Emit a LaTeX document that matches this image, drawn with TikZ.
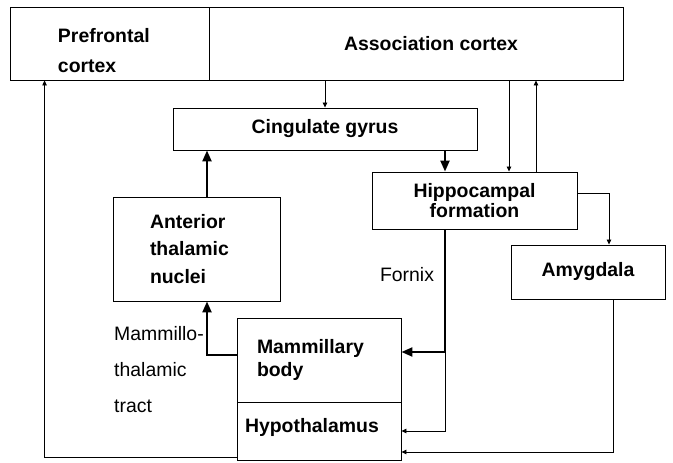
\documentclass[tikz,border=0pt]{standalone}
\usepackage{fontspec}
\setmainfont{Liberation Sans}
\usetikzlibrary{arrows.meta, positioning, calc}
\tikzset{
  arrowK/.style={-{Triangle[length=11bp, width=9bp]}, line width=2.2bp},
  arrowN/.style={-{Triangle[length=5bp, width=4.5bp]}, line width=0.8bp},
  boxA/.style={rectangle, draw, line width=0.9bp, inner sep=0pt,
               font=\bfseries\fontsize{19.5}{23}\selectfont, align=center},
  lblA/.style={font=\fontsize{19.5}{36}\selectfont, align=left, inner sep=0pt},
}
\begin{document}
\begin{tikzpicture}[x=1bp, y=-1bp]
    \useasboundingbox (0,0) rectangle (673,463);
    % boxes
    \node[boxA, minimum width=199bp, minimum height=73bp, text width=103bp,
          text height=28bp, align=left, font=\bfseries\fontsize{19.5}{30}\selectfont]
          (pfc) at (109.5,43.5) {Prefrontal\\cortex};
    \node[boxA, minimum width=414bp, minimum height=73bp] (assoc) at (416,43.5)
          {\hspace*{30bp}Association cortex};
    \node[boxA, minimum width=304bp, minimum height=42bp] (cing) at (325,129) {Cingulate gyrus};
    \node[boxA, minimum width=205bp, minimum height=57bp,
          font=\bfseries\fontsize{19.5}{20.5}\selectfont] (hippo) at (474.5,200.5)
          {Hippocampal\\formation};
    \node[boxA, minimum width=154bp, minimum height=54bp] (amyg) at (588,272) {Amygdala};
    \node[boxA, minimum width=167bp, minimum height=104bp, text width=93bp, align=left,
          font=\bfseries\fontsize{19.5}{27.5}\selectfont] (ant) at (196.5,249)
          {Anterior\\thalamic\\nuclei};
    \node[boxA, minimum width=164bp, minimum height=84bp, text width=124bp, align=left,
          font=\bfseries\fontsize{19.5}{23}\selectfont] (mam) at (319,360)
          {Mammillary\\body};
    \node[boxA, minimum width=164bp, minimum height=58bp, text width=148bp, align=left]
          (hyp) at (319,431) {\raisebox{12bp}{Hypothalamus}};
    % labels
    \node[lblA] (fornix) at (407,275) {Fornix};
    \node[lblA, anchor=north west] (mtt) at (114,326) {Mammillo-\\thalamic\\tract};
    % connectors
    \coordinate (fx) at (445,0);
    \coordinate (ad) at (509,0);
    \coordinate (au) at (536,0);
    \coordinate (mx) at (207,0);
    \draw[arrowN] (cing.north |- assoc.south) -- (cing.north);
    \draw[arrowK] (cing.south -| fx) -- (hippo.north -| fx);
    \draw[arrowN] (assoc.south -| ad) -- (hippo.north -| ad);
    \draw[arrowN] (hippo.north -| au) -- (assoc.south -| au);
    \draw[arrowN] ([yshift=7bp]hippo.east) -| ([xshift=21bp]amyg.north);
    \draw[arrowN] ([xshift=25bp]amyg.south) |- ([yshift=-21bp]hyp.east);
    \draw[arrowK] (ant.north -| mx) -- (cing.south -| mx);
    \draw[arrowK] (hippo.south -| fx) |- ([yshift=8bp]mam.east);
    \draw[arrowN] ([yshift=8bp]mam.east -| fx) |- (hyp.east);
    \draw[arrowK] ([yshift=5bp]mam.west) -| (ant.south -| mx);
    \draw[arrowN] ([yshift=-26bp]hyp.west) -| ([xshift=35bp]pfc.south west);
\end{tikzpicture}
\end{document}
